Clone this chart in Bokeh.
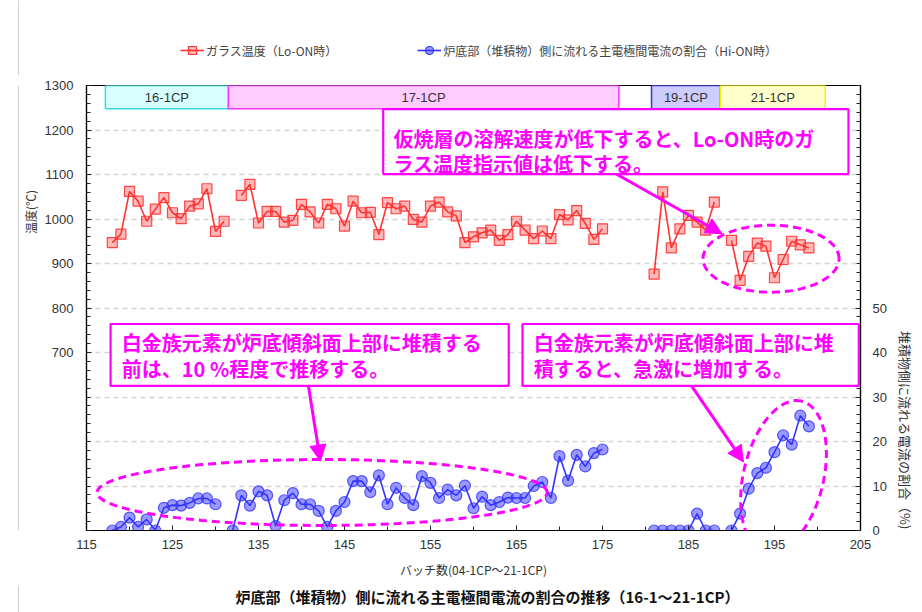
import numpy as np
from bokeh.plotting import figure
from bokeh.layouts import column, row
from bokeh.models import (Range1d, LinearAxis, FixedTicker, BoxAnnotation, Label,
                          Arrow, NormalHead, PolyAnnotation, Legend, LegendItem)
from bokeh.embed import file_html
from bokeh.resources import INLINE

nan = float("nan")

# ---------------- data ----------------
batch = list(range(118, 200))

glass_temp = [
    947, 966, 1062, 1040, 995, 1022, 1048, 1014, 1001, 1029, 1034, 1068, 972, 995,   # 118-131
    nan,                                                                             # 132
    1053, 1078, 991, 1017, 1017, 993, 997, 1033, 1016, 991, 1033, 1023, 984, 1040,   # 133-146
    1014, 1015, 965, 1037, 1023, 1029, 999, 993, 1029, 1038, 1016, 1007, 947, 960,   # 147-160
    969, 975, 952, 965, 995, 975, 956, 973, 956, 1010, 998, 1019, 990, 954, 978,     # 161-175
    nan, nan, nan, nan, nan,                                                         # 176-180
    876, 1061, 935, 978, 1008, 993, 975, 1038,                                       # 181-188
    nan,                                                                             # 189
    952, 862, 916, 946, 939, 868, 909, 950, 942, 935,                                # 190-199
]

bottom_current = [
    0, 0.8, 2.9, 0.8, 2.5, 0, 5.1, 5.7, 5.6, 6.2, 7.2, 7.2, 5.9,                     # 118-130
    nan,                                                                             # 131
    0, 7.9, 5.6, 8.8, 7.9, 1.0, 6.8, 8.4, 5.9, 5.9, 4.4, 0.8, 4.4, 6.4,              # 132-145
    11.1, 11.1, 8.6, 12.4, 5.9, 9.6, 7.3, 5.7, 12.2, 10.7, 7.3, 9.2, 7.9, 10.1,      # 146-159
    5.0, 7.6, 5.7, 6.4, 7.4, 7.3, 7.3, 10.0, 10.9, 7.3, 16.7, 11.2, 17.0, 14.4,      # 160-173
    17.4, 18.2,                                                                      # 174-175
    nan, nan, nan, nan, nan,                                                         # 176-180
    0, 0, 0, 0, 0, 3.8, 0, 0,                                                        # 181-188
    nan,                                                                             # 189
    0, 3.8, 9.4, 12.9, 14.1, 17.6, 21.4, 19.3, 25.8, 23.4,                           # 190-199
]

campaign_names = ["16-1CP", "17-1CP", "19-1CP", "21-1CP"]
campaign_start = [117.2, 131.5, 180.7, 188.7]
campaign_end = [131.5, 176.9, 188.7, 200.9]
campaign_fill = ["#D9FEFE", "#FFCCFF", "#CCCCFF", "#FFFFCC"]
campaign_line = ["#33DDDD", "#FF33FF", "#3333EE", "#F5F500"]

x_major = list(range(115, 206, 10))
x_minor = list(range(115, 206, 5))
temp_major = list(range(700, 1301, 100))
temp_minor = list(range(300, 1301, 20))
pct_major = list(range(0, 51, 10))
pct_minor = list(range(0, 101, 2))
grid_vals = list(range(400, 1201, 100))

JP = "Noto Sans CJK JP"
NUM = "Liberation Sans"
MAG = "#FF00FF"
RED = "#FF3333"
BLUE = "#3333FF"
EDGE = "#D0D0D0"


def blank_fig(w, h, edge=True):
    f = figure(width=w, height=h, x_range=Range1d(0, w), y_range=Range1d(0, h),
               output_backend="svg", toolbar_location=None, x_axis_type=None, y_axis_type=None,
               min_border=0)
    f.grid.visible = False
    f.outline_line_color = None
    f.background_fill_color = "white"
    f.border_fill_color = "white"
    if edge:
        f.add_layout(BoxAnnotation(left=17.5, right=18.5, fill_color=EDGE, fill_alpha=1, line_alpha=0))
    return f


# ---------------- main figure ----------------
p = figure(width=850, height=510,
           x_range=Range1d(115, 205), y_range=Range1d(300, 1300),
           output_backend="svg", toolbar_location=None,
           min_border_left=46, min_border_right=30, min_border_top=10, min_border_bottom=55)
p.extra_y_ranges = {"pct": Range1d(0, 100)}
p.outline_line_color = "black"
p.outline_line_width = 1.2
p.background_fill_color = "white"
p.border_fill_color = "white"

p.xgrid.visible = False
p.ygrid.ticker = FixedTicker(ticks=grid_vals)
p.ygrid.grid_line_color = "#D4D4D4"
p.ygrid.grid_line_dash = "5 4"
p.ygrid.grid_line_width = 1.5


def style_axis(ax):
    ax.axis_line_color = "black"
    ax.axis_line_width = 1.2
    ax.major_tick_in = 5
    ax.major_tick_out = 0
    ax.minor_tick_in = 4
    ax.minor_tick_out = 0
    ax.major_tick_line_color = "#222222"
    ax.minor_tick_line_color = "#222222"
    ax.major_label_text_font = NUM
    ax.major_label_text_font_size = "13px"
    ax.major_label_text_color = "#333333"


xa = p.xaxis[0]
style_axis(xa)
xa.ticker = FixedTicker(ticks=x_major, minor_ticks=x_minor)
xa.major_label_standoff = 9
xa.axis_label = "バッチ数(04-1CP～21-1CP)"
xa.axis_label_text_font = JP
xa.axis_label_text_font_size = "12px"
xa.axis_label_text_font_style = "normal"
xa.axis_label_text_color = "#333333"
xa.axis_label_standoff = 9

ya = p.yaxis[0]
style_axis(ya)
ya.ticker = FixedTicker(ticks=temp_major, minor_ticks=temp_minor)
ya.major_label_standoff = 13

ra = LinearAxis(y_range_name="pct")
style_axis(ra)
ra.ticker = FixedTicker(ticks=pct_major, minor_ticks=pct_minor)
ra.major_label_standoff = 12
p.add_layout(ra, "right")

# ---------------- series ----------------
r_line = p.line(batch, glass_temp, line_color=RED, line_width=1.6)
r_pts = p.scatter(batch, glass_temp, marker="square", size=10, fill_color=RED, fill_alpha=0.35,
                  line_color=RED, line_width=1.2, line_alpha=0.9)
b_line = p.line(batch, bottom_current, line_color=BLUE, line_width=1.6, y_range_name="pct")
b_pts = p.scatter(batch, bottom_current, marker="circle", size=11, fill_color=BLUE, fill_alpha=0.5,
                  line_color=BLUE, line_width=1.2, line_alpha=0.8, y_range_name="pct")

# ---------------- campaign boxes ----------------
for name, s, e, fc, lc in zip(campaign_names, campaign_start, campaign_end, campaign_fill, campaign_line):
    p.add_layout(BoxAnnotation(left=s, right=e, bottom=1248, top=1300, fill_color=fc, fill_alpha=1,
                               line_color=lc, line_width=1.5, line_alpha=1))
    p.add_layout(Label(x=(s + e) / 2, y=1274, text=name, text_align="center", text_baseline="middle",
                       text_font=NUM, text_font_size="13px", text_color="#333333"))

# ---------------- callouts ----------------
XPX = 774 / 90.0
YPX = 445 / 1000.0


def ellipse_pts(cx, cy, w_px, h_px, ang_deg, n=160):
    t = np.linspace(0, 2 * np.pi, n)
    ex = w_px / 2 * np.cos(t)
    ey = h_px / 2 * np.sin(t)
    a = np.radians(ang_deg)
    rx = ex * np.cos(a) - ey * np.sin(a)
    ry = ex * np.sin(a) + ey * np.cos(a)
    return list(cx + rx / XPX), list(cy + ry / YPX)


for (cx, cy, w, h, ang) in [(194.6, 910.8, 136, 67, 0), (142.4, 385.4, 450, 66, 0),
                            (196.05, 421.3, 155, 80, 76.6)]:
    xs, ys = ellipse_pts(cx, cy, w, h, ang)
    p.add_layout(PolyAnnotation(xs=xs, ys=ys, fill_alpha=0, line_color=MAG, line_alpha=1,
                                line_width=3, line_dash="8 5"))

boxes = [
    (149.5, 203.6, 1247, 1101, ["仮焼層の溶解速度が低下すると、Lo-ON時のガ", "ラス温度指示値は低下する。"], 150.7, [1180, 1124]),
    (117.8, 164.1, 764, 625, ["白金族元素が炉底傾斜面上部に堆積する", "前は、10 %程度で推移する。"], 119.1, [723, 663]),
    (165.7, 204.8, 764, 625, ["白金族元素が炉底傾斜面上部に堆", "積すると、急激に増加する。"], 167.0, [723, 663]),
]
for (l, r, t, b, lines, tx, tys) in boxes:
    p.add_layout(BoxAnnotation(left=l, right=r, top=t, bottom=b, fill_color="white", fill_alpha=1,
                               line_color=MAG, line_width=2.2, line_alpha=1))
    for txt, ty in zip(lines, tys):
        p.add_layout(Label(x=tx, y=ty, text=txt, text_align="left", text_baseline="middle",
                           text_font=JP, text_font_size="20px", text_font_style="bold",
                           text_color=MAG))

for (x0, y0, x1, y1) in [(176.6, 1101, 188.9, 967), (140.8, 625, 142.2, 456), (185.35, 625, 191.4, 454)]:
    p.add_layout(Arrow(end=NormalHead(size=16, fill_color=MAG, line_color=MAG),
                       x_start=x0, y_start=y0, x_end=x1, y_end=y1,
                       line_color=MAG, line_width=3))

# ---------------- legend (top strip) ----------------
top = blank_fig(914, 75)
off = [-1000]
lg_r_line = top.line(x=off, y=off, line_color=RED, line_width=1.6)
lg_r_pts = top.scatter(x=off, y=off, marker="square", size=10, fill_color=RED, fill_alpha=0.35,
                       line_color=RED, line_width=1.2)
lg_b_line = top.line(x=off, y=off, line_color=BLUE, line_width=1.6)
lg_b_pts = top.scatter(x=off, y=off, marker="circle", size=11, fill_color=BLUE, fill_alpha=0.5,
                       line_color=BLUE, line_width=1.2)
legend = Legend(items=[
    LegendItem(label="ガラス温度（Lo-ON時）", renderers=[lg_r_line, lg_r_pts]),
    LegendItem(label="炉底部（堆積物）側に流れる主電極間電流の割合（Hi-ON時）", renderers=[lg_b_line, lg_b_pts]),
], orientation="horizontal", location=(172, 7))
legend.label_text_font = JP
legend.label_text_font_size = "12px"
legend.label_text_color = "#444444"
legend.border_line_alpha = 0
legend.background_fill_alpha = 0
legend.spacing = 80
legend.glyph_width = 24
legend.label_standoff = 2
legend.padding = 8
legend.margin = 0
top.add_layout(legend)

# ---------------- side strips ----------------
left = blank_fig(40, 510)
left.add_layout(Label(x=30, y=365, text="温度(℃)", angle=np.pi / 2, text_align="center",
                      text_baseline="middle", text_font=JP, text_font_size="12px", text_color="#333333"))

right = blank_fig(24, 510, edge=False)
right.add_layout(Label(x=15, y=115, text="堆積物側に流れる電流の割合（%)", angle=-np.pi / 2,
                       text_align="center", text_baseline="middle", text_font=JP, text_font_size="13px",
                       text_color="#333333"))

bottom = blank_fig(914, 27)
bottom.add_layout(Label(x=487, y=16, text="炉底部（堆積物）側に流れる主電極間電流の割合の推移（16-1～21-1CP）",
                        text_align="center", text_baseline="middle", text_font=JP, text_font_size="15px",
                        text_font_style="bold", text_color="#111111"))

layout = column(top, row(left, p, right), bottom)

open("out.html", "w").write(file_html(layout, INLINE))
